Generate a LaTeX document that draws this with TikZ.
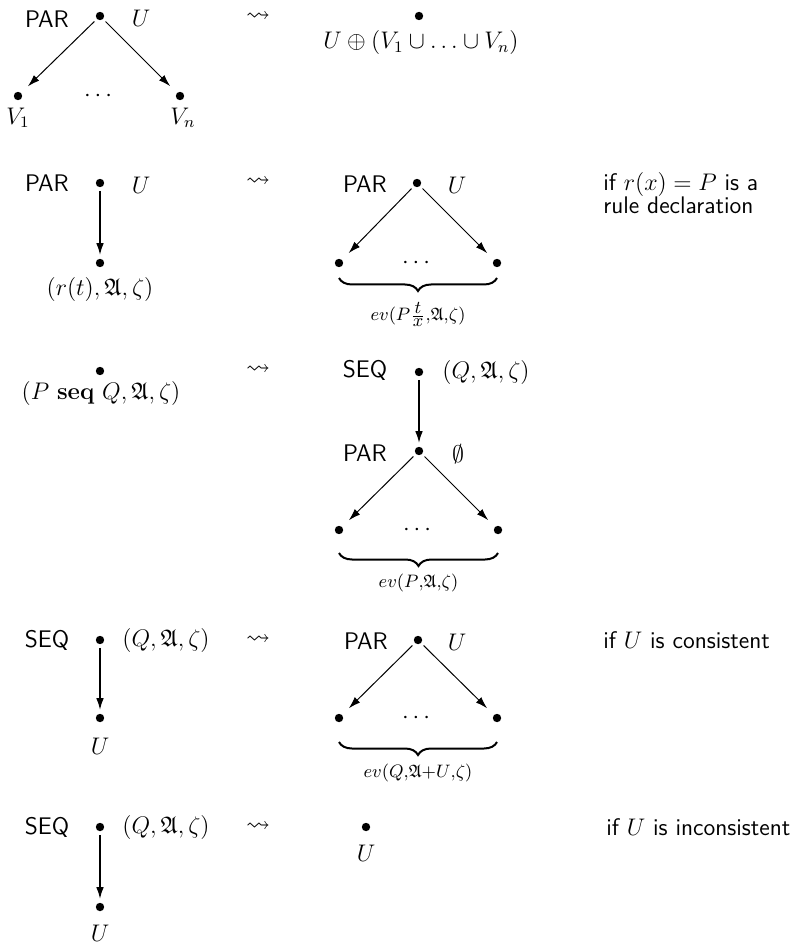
\documentclass[tikz,border=0pt,12pt]{standalone}
\usepackage{amsmath}
\usepackage{amssymb}
\usepackage{tikz}
\usetikzlibrary{arrows.meta, decorations.pathreplacing}

\tikzset{
    vertex/.style={circle, fill, inner sep=0pt, minimum size=4.2pt, outer sep=1.8pt},
    lbl/.style={inner sep=1pt},
    leads/.style={inner sep=0pt},
    rulename/.style={font=\sffamily, inner sep=1pt},
    note/.style={font=\sffamily, anchor=west, align=left, inner sep=0pt},
    edge/.style={-{Latex[length=6pt,width=3.8pt]}, line width=0.5pt, shorten >=3pt},
    vedge/.style={-{Latex[length=6pt,width=3.8pt]}, line width=0.9pt},
    underbr/.style={decorate, decoration={brace, mirror, amplitude=6.5pt}, line width=1pt},
    brlbl/.style={font=\fontsize{9}{10}\selectfont, inner sep=1pt},
}

\begin{document}
\begin{tikzpicture}[x=0.5pt, y=-0.5pt]
    \useasboundingbox (0,0) rectangle (809,946);

    % rule 1: PAR node with its children
    \node[rulename] (par1) at (47,19) {PAR};
    \node[vertex] (top1) at (100,16) {};
    \node[lbl] (u1) at (141,18) {$U$};
    \node[vertex] (left1) at (18,96) {};
    \node[vertex] (right1) at (180,96) {};
    \node[lbl] (dots1) at (100,96) {$\cdots$};
    \node[lbl] (v1) at (18,118) {$V_1$};
    \node[lbl] (vn) at (183,118) {$V_n$};
    \draw[edge] (top1) -- (left1);
    \draw[edge] (top1) -- (right1);
    \node[leads] (to1) at (258,17) {$\leadsto$};
    \node[vertex] (res1) at (419,16) {};
    \node[lbl] (resu1) at (421,43) {$U \oplus (V_1 \cup \ldots \cup V_n)$};

    % rule 2: rule call
    \node[rulename] (par2) at (47,183) {PAR};
    \node[vertex] (top2) at (100,183) {};
    \node[lbl] (u2) at (141,185) {$U$};
    \node[vertex] (call2) at (100,263) {};
    \node[lbl] (conf2) at (100,290) {$(r(t),\mathfrak{A},\zeta)$};
    \draw[vedge] (top2) -- (call2);
    \node[leads] (to2) at (258,182) {$\leadsto$};
    \node[rulename] (par3) at (365,184) {PAR};
    \node[vertex] (top3) at (417,183) {};
    \node[lbl] (u3) at (457,185) {$U$};
    \node[vertex] (left3) at (339,263) {};
    \node[vertex] (right3) at (497,263) {};
    \node[lbl] (dots3) at (418,263) {$\cdots$};
    \draw[edge] (top3) -- (left3);
    \draw[edge] (top3) -- (right3);
    \draw[underbr] ([yshift=-7.5pt]left3.center) -- ([yshift=-7.5pt]right3.center)
        node[brlbl, midway, below=10.5pt] (ev3) {$ev(P\frac{\textstyle t}{\textstyle x}{,}\mathfrak{A}{,}\zeta)$};
    \node[note] (if2) at (603,193) {if $r(x) = P$ is a\\[-3pt]rule declaration};

    % rule 3: sequential composition
    \node[vertex] (seq4) at (100,371) {};
    \node[lbl] (conf4) at (101,393) {$(P\ \mathbf{seq}\ Q,\mathfrak{A},\zeta)$};
    \node[leads] (to4) at (258,370) {$\leadsto$};
    \node[rulename] (seqn5) at (365,370) {SEQ};
    \node[vertex] (top5) at (419,372) {};
    \node[lbl] (conf5) at (486,372) {$(Q,\mathfrak{A},\zeta)$};
    \node[rulename] (par5) at (365,453) {PAR};
    \node[vertex] (mid5) at (419,451) {};
    \node[lbl] (empty5) at (458,454) {$\emptyset$};
    \draw[vedge] (top5) -- (mid5);
    \node[vertex] (left5) at (339,530) {};
    \node[vertex] (right5) at (498,530) {};
    \node[lbl] (dots5) at (419,530) {$\cdots$};
    \draw[edge] (mid5) -- (left5);
    \draw[edge] (mid5) -- (right5);
    \draw[underbr] ([yshift=-11.5pt]left5.center) -- ([yshift=-11.5pt]right5.center)
        node[brlbl, midway, below=9pt] (ev5) {$ev(P{,}\mathfrak{A}{,}\zeta)$};

    % rule 4: consistent update
    \node[rulename] (seqn7) at (47,640) {SEQ};
    \node[vertex] (top7) at (100,640) {};
    \node[lbl] (conf7) at (166,640) {$(Q,\mathfrak{A},\zeta)$};
    \node[vertex] (bot7) at (100,718) {};
    \node[lbl] (u7) at (100,746) {$U$};
    \draw[vedge] (top7) -- (bot7);
    \node[leads] (to7) at (258,640) {$\leadsto$};
    \node[rulename] (par8) at (366,641) {PAR};
    \node[vertex] (top8) at (418,640) {};
    \node[lbl] (u8) at (457,642) {$U$};
    \node[vertex] (left8) at (339,718) {};
    \node[vertex] (right8) at (497,718) {};
    \node[lbl] (dots8) at (418,718) {$\cdots$};
    \draw[edge] (top8) -- (left8);
    \draw[edge] (top8) -- (right8);
    \draw[underbr] ([yshift=-12pt]left8.center) -- ([yshift=-12pt]right8.center)
        node[brlbl, midway, below=9.5pt] (ev8) {$ev(Q{,}\mathfrak{A}{+}U{,}\zeta)$};
    \node[note] (if7) at (603,640) {if $U$ is consistent};

    % rule 5: inconsistent update
    \node[rulename] (seqn9) at (47,827) {SEQ};
    \node[vertex] (top9) at (100,827) {};
    \node[lbl] (conf9) at (166,827) {$(Q,\mathfrak{A},\zeta)$};
    \node[vertex] (bot9) at (100,907) {};
    \node[lbl] (u9) at (100,933) {$U$};
    \draw[vedge] (top9) -- (bot9);
    \node[leads] (to9) at (258,827) {$\leadsto$};
    \node[vertex] (res9) at (366,827) {};
    \node[lbl] (resu9) at (366,853) {$U$};
    \node[note] (if9) at (606,827) {if $U$ is inconsistent};
\end{tikzpicture}
\end{document}
